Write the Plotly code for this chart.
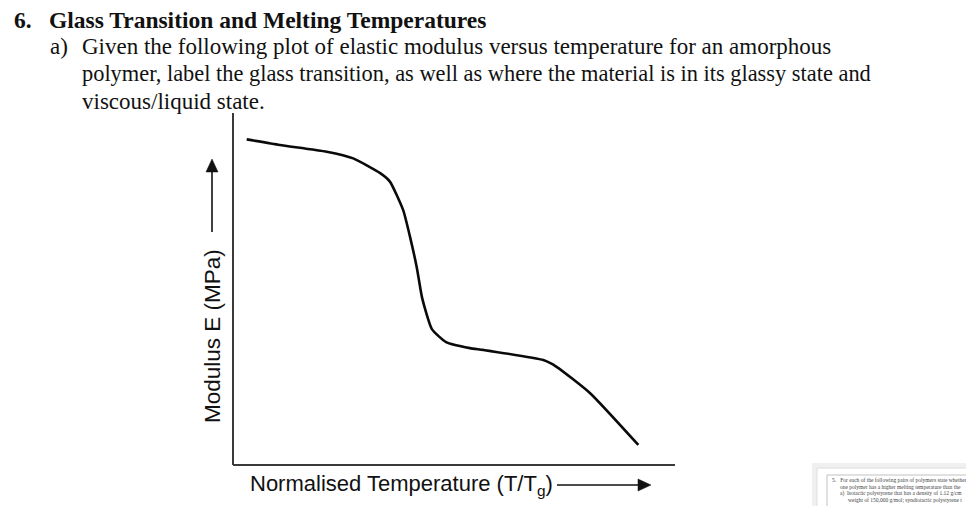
import plotly.graph_objects as go

# the page body adds an 8px margin, so the figure is 8px smaller than the window
PAGE_W, PAGE_H = 974, 506
OFF = 8
W, H = PAGE_W - OFF, PAGE_H - OFF

# curve (arbitrary units: normalised temperature, modulus)
temp = [0.31, 1.06, 2.12, 2.72, 3.33, 3.55, 3.85, 4.00, 4.16, 4.28, 4.50,
        4.82, 5.36, 5.66, 7.02, 7.32, 8.08, 9.17]
modulus = [9.25, 9.09, 8.90, 8.71, 8.29, 8.05, 7.24, 6.51, 5.60, 4.74, 3.86,
           3.49, 3.32, 3.27, 2.98, 2.79, 2.04, 0.57]

SERIF = "Liberation Serif"
SANS = "Liberation Sans, Arial, sans-serif"
INK = "#111111"
AXIS = "#3a3a3a"


def px(x):
    return (x - OFF) / W


def py(y):
    return 1 - (y - OFF) / H


def poly(points):
    return "M " + " L ".join(f"{px(x):.5f},{py(y):.5f}" for x, y in points) + " Z"


fig = go.Figure()
fig.add_trace(go.Scatter(
    x=temp, y=modulus, mode="lines",
    line=dict(color="#0a0a0a", width=2.6, shape="spline", smoothing=0.5),
    hoverinfo="skip", showlegend=False,
))

fig.update_layout(
    width=W, height=H, margin=dict(l=0, r=0, t=0, b=0),
    paper_bgcolor="white", plot_bgcolor="white", showlegend=False,
)
fig.update_xaxes(domain=[px(233), px(675)], range=[0, 10], showgrid=False,
                 zeroline=False, showticklabels=False, ticks="",
                 showline=False, fixedrange=True)
fig.update_yaxes(domain=[py(465), py(113)], range=[0, 10], showgrid=False,
                 zeroline=False, showticklabels=False, ticks="",
                 showline=False, fixedrange=True)

# L-shaped axes (left + bottom)
fig.add_shape(type="line", xref="paper", yref="paper",
              x0=px(233), y0=py(113), x1=px(233), y1=py(465),
              line=dict(color=AXIS, width=2))
fig.add_shape(type="line", xref="paper", yref="paper",
              x0=px(233), y0=py(465), x1=px(675), y1=py(465),
              line=dict(color=AXIS, width=2))

# document text
lines = [
    (12, 20, "<b>6.</b>", 23.5),
    (47, 20, "<b>Glass Transition and Melting Temperatures</b>", 23.5),
    (48, 46, "a)", 23),
    (80, 46, "Given the following plot of elastic modulus versus temperature for an amorphous", 23),
    (80, 74, "polymer, label the glass transition, as well as where the material is in its glassy state and", 22.4),
    (80, 101, "viscous/liquid state.", 23),
]
for x, y, t, s in lines:
    fig.add_annotation(x=px(x), y=py(y), xref="paper", yref="paper",
                       text=t, showarrow=False, xanchor="left", yanchor="middle",
                       font=dict(family=SERIF, size=s, color=INK))

# axis titles
fig.add_annotation(x=px(212), y=py(336), xref="paper", yref="paper",
                   text="Modulus E (MPa)", textangle=-90, showarrow=False,
                   xanchor="center", yanchor="middle",
                   font=dict(family=SANS, size=22.5, color=INK))
fig.add_annotation(x=px(248), y=py(485), xref="paper", yref="paper",
                   text="Normalised Temperature (T/T<sub>g</sub>)", showarrow=False,
                   xanchor="left", yanchor="middle",
                   font=dict(family=SANS, size=22, color=INK))

# axis arrows (shaft + filled head)
fig.add_shape(type="line", xref="paper", yref="paper",
              x0=px(212), y0=py(232), x1=px(212), y1=py(170),
              line=dict(color=INK, width=1.6))
fig.add_shape(type="path", xref="paper", yref="paper",
              path=poly([(212, 159), (206, 172), (218, 172)]),
              fillcolor=INK, line=dict(color=INK, width=0.5))
fig.add_shape(type="line", xref="paper", yref="paper",
              x0=px(557), y0=py(485), x1=px(640), y1=py(485),
              line=dict(color=INK, width=1.6))
fig.add_shape(type="path", xref="paper", yref="paper",
              path=poly([(651, 485), (638, 479), (638, 491)]),
              fillcolor=INK, line=dict(color=INK, width=0.5))

# thumbnail card in bottom-right corner
fig.add_shape(type="rect", xref="paper", yref="paper",
              x0=px(812), y0=py(463), x1=px(980), y1=py(512),
              fillcolor="#f0f0f0", line=dict(width=0), layer="below")
fig.add_shape(type="rect", xref="paper", yref="paper",
              x0=px(817), y0=py(468), x1=px(980), y1=py(512),
              fillcolor="white", line=dict(color="#dedede", width=1))
fig.add_shape(type="rect", xref="paper", yref="paper",
              x0=px(827), y0=py(475), x1=px(990), y1=py(520),
              fillcolor="white", line=dict(color="#999999", width=0.6))
thumb = [
    (830, 480, "5.   For each of the following pairs of polymers state whether"),
    (838, 486.5, "one polymer has a higher melting temperature than the"),
    (838, 493, "a)  Isotactic polystyrene that has a density of 1.12 g/cm"),
    (846, 499.5, "weight of 150,000 g/mol; syndiotactic polystyrene t"),
]
for x, y, t in thumb:
    fig.add_annotation(x=px(x), y=py(y), xref="paper", yref="paper",
                       text=t, showarrow=False, xanchor="left", yanchor="middle",
                       font=dict(family=SERIF, size=5.5, color="#444444"))

fig.write_html("out.html")
